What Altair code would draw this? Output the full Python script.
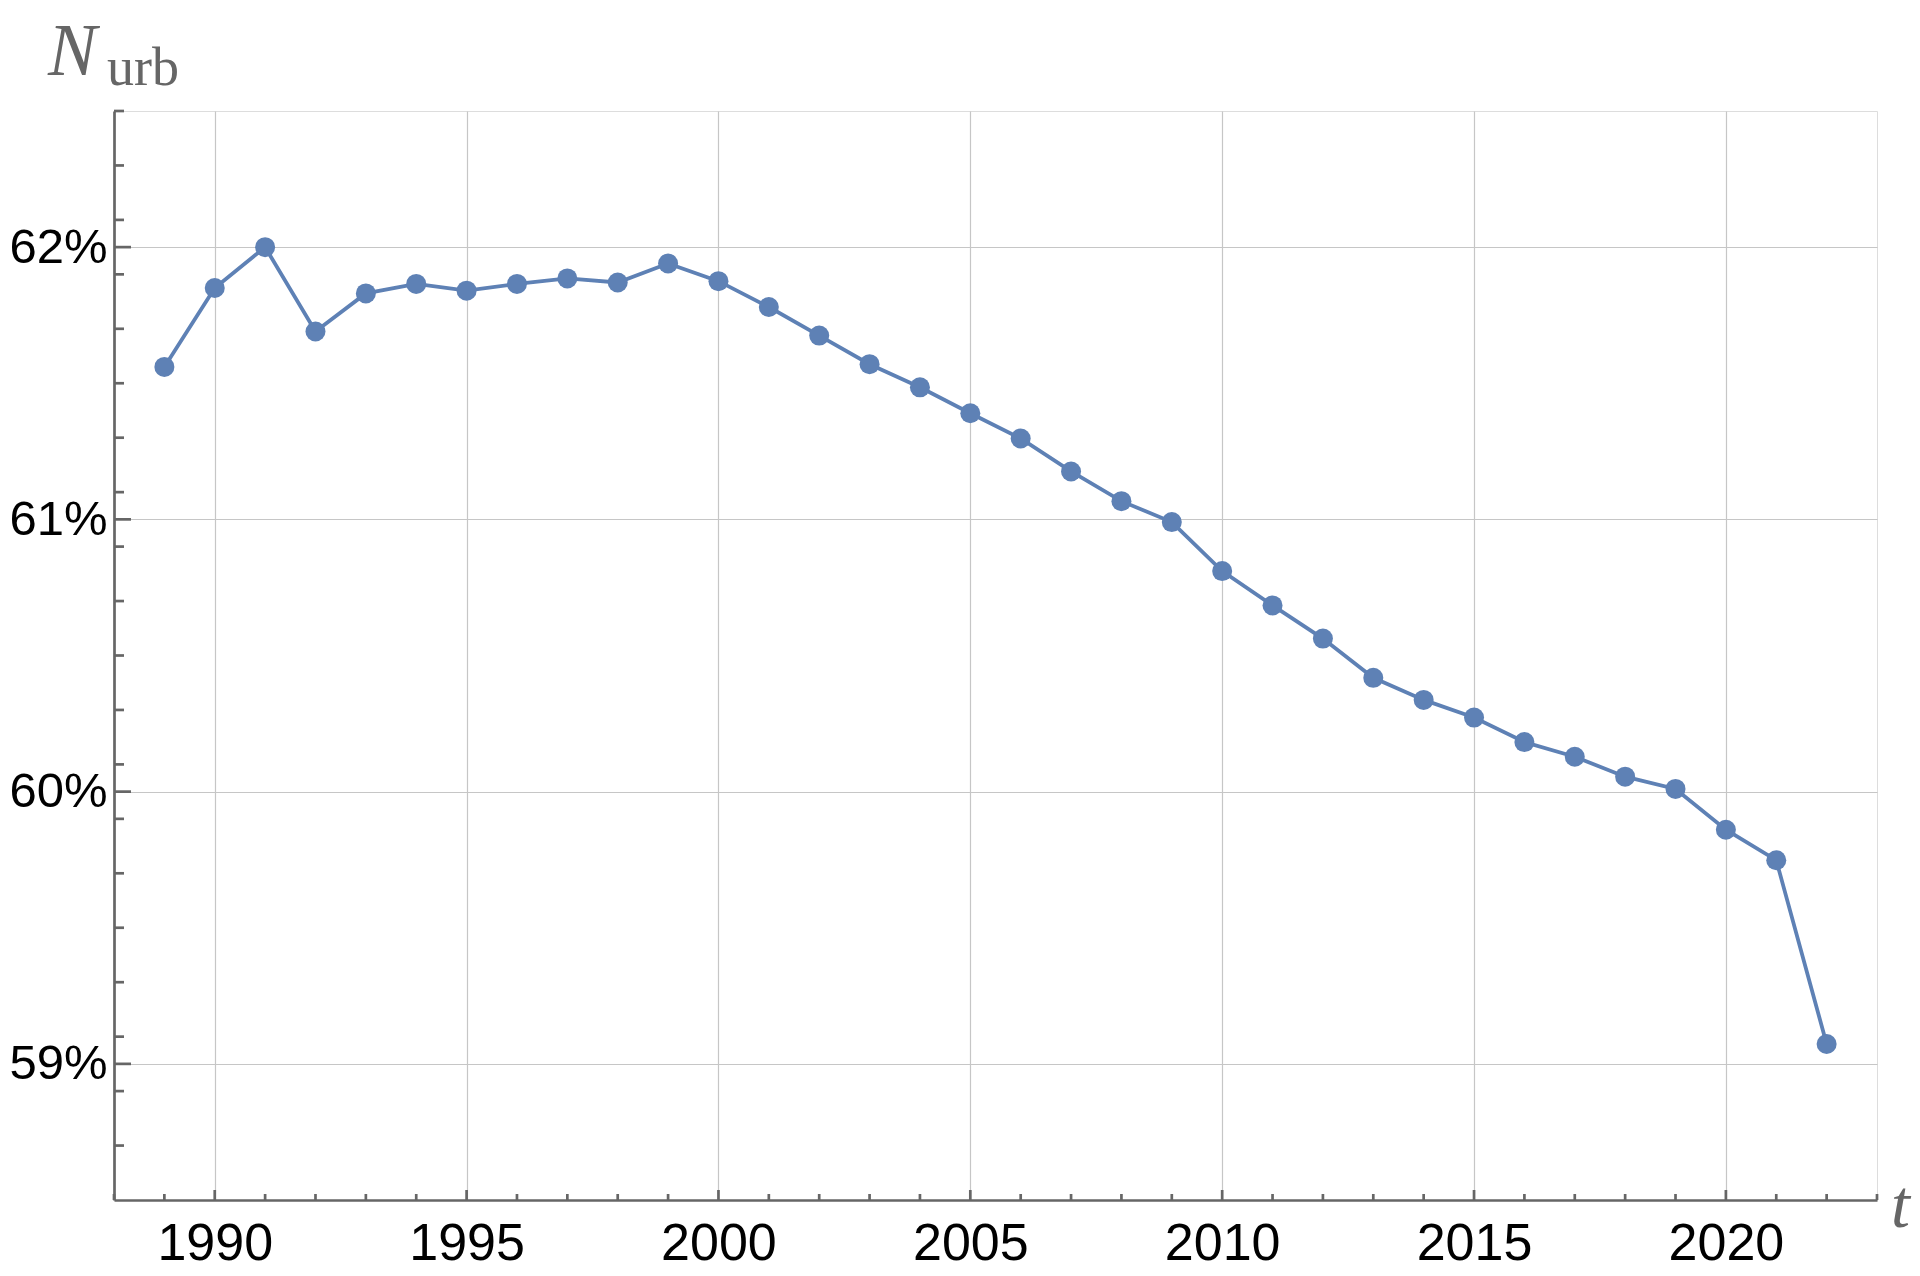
import altair as alt
import pandas as pd

# ---- data ----
years = list(range(1989, 2023))
urban_share = [61.56, 61.85, 62.00, 61.69, 61.83, 61.865, 61.84, 61.865, 61.885, 61.87,
               61.94, 61.875, 61.78, 61.675, 61.57, 61.485, 61.39, 61.297, 61.176, 61.067,
               60.99, 60.81, 60.684, 60.562, 60.418, 60.337, 60.272, 60.182, 60.128, 60.055,
               60.01, 59.86, 59.748, 59.073]

x_major = [1990, 1995, 2000, 2005, 2010, 2015, 2020]
x_minor = [y for y in range(1988, 2024) if y % 5 != 0]
y_major = [59, 60, 61, 62]
y_minor = [58.7, 58.9, 59.1, 59.3, 59.5, 59.7, 59.9, 60.1, 60.3, 60.5, 60.7, 60.9,
           61.1, 61.3, 61.5, 61.7, 61.9, 62.1, 62.3, 62.5]

y_title_main = "N"
y_title_sub = "urb"
x_title = "t"

# ---- style ----
W, H = 1763, 1089
C = "#5e81b5"
AX = "#666666"
GRID = "#c6c6c6"
LABEL_FONT = "Liberation Sans"
SERIF = "Liberation Serif"

df = pd.DataFrame({"year": years, "share": urban_share})

xs = alt.Scale(domain=[1988, 2023], nice=False, zero=False)
ys = alt.Scale(domain=[58.5, 62.5], nice=False, zero=False)

x_axis = alt.Axis(values=x_major, format="d", grid=True, gridColor=GRID, gridWidth=1.2,
                  ticks=False, domainColor=AX, domainWidth=2.7,
                  labelFont=LABEL_FONT, labelFontSize=52, labelColor="black",
                  labelPadding=18, title=None)
y_axis = alt.Axis(values=y_major, labelExpr="datum.value + '%'", grid=True,
                  gridColor=GRID, gridWidth=1.2, ticks=False, domainColor=AX,
                  domainWidth=2.7, labelFont=LABEL_FONT, labelFontSize=49,
                  labelColor="black", labelPadding=7, title=None)

base = alt.Chart(df)
line = base.mark_line(color=C, strokeWidth=3.8).encode(
    x=alt.X("year:Q", scale=xs, axis=x_axis),
    y=alt.Y("share:Q", scale=ys, axis=y_axis),
)
points = base.mark_circle(color=C, size=400, opacity=1).encode(
    x=alt.X("year:Q", scale=xs),
    y=alt.Y("share:Q", scale=ys),
)

# inward ticks
def yticks(vals, length):
    return alt.Chart(pd.DataFrame({"share": vals})).mark_rule(
        color=AX, strokeWidth=2.7).encode(
        y=alt.Y("share:Q", scale=ys), x=alt.value(0), x2=alt.value(length))

def xticks(vals, length):
    return alt.Chart(pd.DataFrame({"year": vals})).mark_rule(
        color=AX, strokeWidth=2.7).encode(
        x=alt.X("year:Q", scale=xs), y=alt.value(H), y2=alt.value(H - length))

t_main = alt.Chart(pd.DataFrame({"lab": [y_title_main]})).mark_text(
    font=SERIF, fontSize=73, fontStyle="italic", color=AX, align="left",
    baseline="alphabetic").encode(text="lab:N", x=alt.value(-66), y=alt.value(-36))
t_sub = alt.Chart(pd.DataFrame({"lab": [y_title_sub]})).mark_text(
    font=SERIF, fontSize=54, color=AX, align="left",
    baseline="alphabetic").encode(text="lab:N", x=alt.value(-7), y=alt.value(-26))
t_x = alt.Chart(pd.DataFrame({"lab": [x_title]})).mark_text(
    font=SERIF, fontSize=68, fontStyle="italic", color=AX, align="left",
    baseline="alphabetic").encode(text="lab:N", x=alt.value(1777), y=alt.value(1116))

chart = alt.layer(
    line, points,
    yticks(y_major, 17), yticks(y_minor, 10),
    xticks(x_major, 10), xticks(x_minor, 6),
    t_main, t_sub, t_x,
).properties(
    width=W, height=H,
    padding={"left": 106, "top": 103, "right": 35, "bottom": 70},
    autosize=alt.AutoSizeParams(type="none"),
).configure_view(stroke=None).configure(background="white")

chart.save("out.html", embed_options={"renderer": "svg", "actions": False})
